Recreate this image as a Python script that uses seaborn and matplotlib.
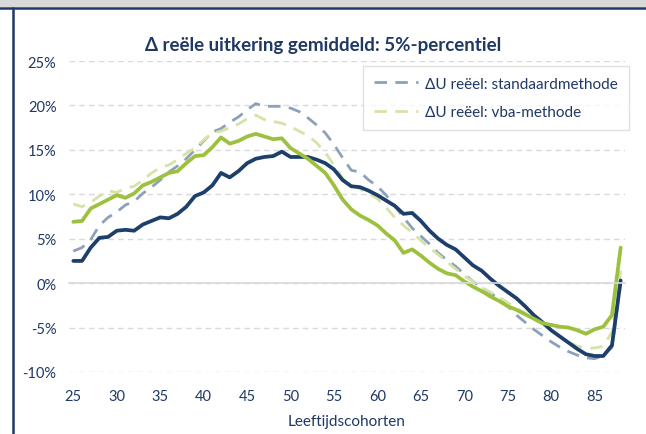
import numpy as np
import pandas as pd
import matplotlib
matplotlib.use("Agg")
import matplotlib.pyplot as plt
from matplotlib.lines import Line2D
from matplotlib.patches import Rectangle
import seaborn as sns

# ── data ────────────────────────────────────────────────────────────────
ages = list(range(25, 89))

std_dashed = [3.6, 4.0, 4.9, 6.5, 7.4, 8.0, 8.8, 9.2, 10.1, 10.8,
              11.6, 12.5, 13.2, 14.0, 15.0, 16.0, 17.0, 17.4, 18.1, 18.7,
              19.5, 20.2, 19.9, 19.9, 19.9, 19.7, 19.3, 18.6, 17.8, 16.9,
              15.6, 14.1, 12.7, 12.5, 11.6, 10.9, 9.9, 8.7, 7.4, 6.2,
              5.3, 4.4, 3.4, 2.6, 1.9, 1.0, 0.2, -0.5, -1.1, -1.8,
              -2.6, -3.6, -4.4, -5.2, -5.9, -6.6, -7.2, -7.7, -8.1, -8.4,
              -8.5, -8.2, -7.2, 0.0]

vba_dashed = [8.9, 8.6, 9.1, 9.8, 10.4, 10.2, 10.7, 10.9, 11.6, 12.4,
              13.0, 13.3, 13.9, 14.6, 15.2, 16.1, 16.9, 17.1, 17.5, 17.9,
              18.5, 18.9, 18.4, 18.2, 18.0, 17.6, 17.1, 16.6, 15.8, 14.7,
              13.3, 11.8, 11.0, 10.6, 10.1, 9.5, 8.5, 7.4, 6.5, 5.7,
              4.8, 4.0, 3.2, 2.4, 1.6, 0.8, 0.2, -0.5, -1.0, -1.6,
              -2.2, -2.8, -3.4, -4.0, -4.6, -5.3, -6.0, -6.6, -7.1, -7.3,
              -7.3, -7.1, -5.5, 1.4]

std_solid = [2.5, 2.5, 4.0, 5.1, 5.2, 5.9, 6.0, 5.9, 6.6, 7.0,
             7.4, 7.3, 7.8, 8.6, 9.8, 10.2, 11.0, 12.4, 11.9, 12.6,
             13.5, 14.0, 14.2, 14.3, 14.8, 14.2, 14.2, 14.2, 13.9, 13.5,
             12.8, 11.6, 10.9, 10.8, 10.4, 9.9, 9.3, 8.7, 7.8, 7.9,
             7.0, 5.9, 5.0, 4.3, 3.8, 2.9, 2.0, 1.4, 0.5, -0.3,
             -1.0, -1.7, -2.6, -3.6, -4.4, -5.3, -6.0, -6.7, -7.4, -8.0,
             -8.2, -8.2, -7.0, 0.3]

vba_solid = [6.9, 7.0, 8.4, 8.9, 9.4, 9.9, 9.6, 10.1, 11.0, 11.4,
             11.9, 12.4, 12.6, 13.5, 14.3, 14.4, 15.3, 16.4, 15.7, 16.0,
             16.5, 16.8, 16.5, 16.2, 16.3, 15.2, 14.6, 14.0, 13.2, 12.4,
             11.0, 9.4, 8.3, 7.6, 7.1, 6.5, 5.6, 4.8, 3.4, 3.8,
             3.1, 2.3, 1.6, 1.1, 0.9, 0.2, -0.4, -0.9, -1.5, -2.0,
             -2.6, -3.0, -3.5, -4.0, -4.5, -4.7, -4.9, -5.0, -5.3, -5.7,
             -5.2, -4.9, -3.6, 4.0]

legend_labels = ["\u0394U re\u00ebel: standaardmethode", "\u0394U re\u00ebel: vba-methode"]
x_tick_labels = list(range(25, 90, 5))
y_ticks = list(range(-10, 30, 5))

NAVY = "#1f3864"
C_STD_D = "#8ea1ba"
C_VBA_D = "#d6e3a6"
C_STD_S = "#1c3f6b"
C_VBA_S = "#9dc13e"
GRID = "#d9d9d9"

sns.set_theme(style="white")
plt.rcParams["font.family"] = ["Lato", "DejaVu Sans"]

df = pd.DataFrame({"age": ages, "std_d": std_dashed, "vba_d": vba_dashed,
                   "std_s": std_solid, "vba_s": vba_solid})

fig = plt.figure(figsize=(6.46, 4.35), dpi=100)
ax = fig.add_axes([69 / 646, 1 - 373 / 435, (625 - 69) / 646, (373 - 62) / 435])

sns.lineplot(data=df, x="age", y="std_d", ax=ax, color=C_STD_D, lw=2.0,
             dashes=False, label=legend_labels[0])
sns.lineplot(data=df, x="age", y="vba_d", ax=ax, color=C_VBA_D, lw=2.0,
             dashes=False, label=legend_labels[1])
for ln in ax.lines[:2]:
    ln.set_linestyle((0, (4.5, 3)))
sns.lineplot(data=df, x="age", y="std_s", ax=ax, color=C_STD_S, lw=2.7, legend=False)
sns.lineplot(data=df, x="age", y="vba_s", ax=ax, color=C_VBA_S, lw=2.7, legend=False)

ax.set_xlim(24.5, 88.5)
ax.set_ylim(-10, 25)
ax.set_yticks(y_ticks)
ax.set_yticklabels([f"{v}%" for v in y_ticks], color=NAVY, fontsize=10.5)
ax.tick_params(axis="y", length=0, pad=9)
ax.yaxis.grid(True, color=GRID, linestyle=(0, (4, 3)), lw=1)
ax.set_axisbelow(True)
ax.set_ylabel("")

for s in ["top", "right", "left"]:
    ax.spines[s].set_visible(False)
ax.spines["bottom"].set_position(("data", 0))
ax.spines["bottom"].set_color(GRID)
ax.spines["bottom"].set_linewidth(1.2)
ax.set_xticks([t - 0.5 for t in x_tick_labels])
ax.set_xticklabels([])
ax.tick_params(axis="x", direction="out", length=4, color=GRID, width=1.2)
ax.set_xlabel("")

sec = ax.secondary_xaxis("bottom")
sec.set_xticks(x_tick_labels)
sec.set_xticklabels([str(t) for t in x_tick_labels], color=NAVY, fontsize=10.5)
sec.tick_params(length=0, pad=12)
sec.spines["bottom"].set_visible(False)
sec.set_xlabel("Leeftijdscohorten", color=NAVY, fontsize=11, labelpad=8)

leg = ax.legend(loc="upper right", bbox_to_anchor=(1.007, 0.984), borderaxespad=0,
                frameon=True, fancybox=False, edgecolor=GRID, fontsize=11,
                handlelength=2.9, labelspacing=0.95, borderpad=0.7, handletextpad=0.5)
leg.get_frame().set_linewidth(1.0)
for t in leg.get_texts():
    t.set_color(NAVY)

fig.text(0.5, 1 - 45 / 435, "\u0394 re\u00eble uitkering gemiddeld: 5%-percentiel",
         ha="center", va="center", fontsize=13.5, fontweight="bold", color=NAVY)

# frame decoration of the slide
fig.add_artist(Rectangle((0, 1 - 8 / 435), 1, 8 / 435, transform=fig.transFigure,
                         color="#d9d9d9", lw=0))
fig.add_artist(Line2D([0, 1], [1 - 9 / 435, 1 - 9 / 435], transform=fig.transFigure,
                      color=NAVY, lw=1.8))
fig.add_artist(Line2D([13 / 646, 13 / 646], [0, 1 - 9 / 435], transform=fig.transFigure,
                      color=NAVY, lw=1.8))

fig.savefig("out.png", dpi=100)
